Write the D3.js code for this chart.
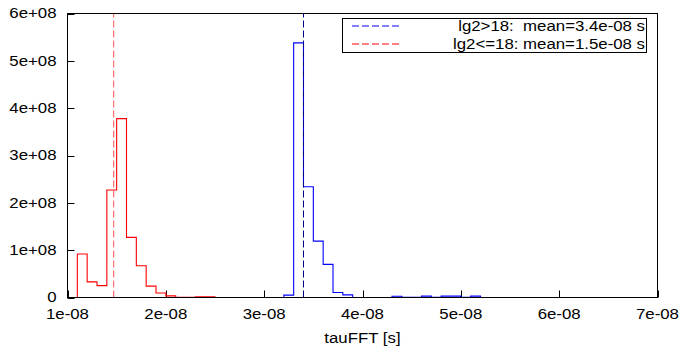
<!DOCTYPE html>
<html>
<head>
  <meta charset="utf-8">
  <title>tauFFT histogram</title>
  <script type="text/javascript" src="https://cdn.jsdelivr.net/npm/d3@7"></script>
  <style>
    body { margin: 0; background: #fff; }
    text { font-family: "Liberation Sans", Arial, sans-serif; font-size: 14px; fill: #000; }
  </style>
</head>
<body>
  <svg id="chart"></svg>
  <script>
    // bin left edges (units of 1e-8 s), bin width 0.1
    var binWidth = 0.1;
    var redEdges = [1.1, 1.2, 1.3, 1.4, 1.5, 1.6, 1.7, 1.8, 1.9, 2.0, 2.1, 2.2, 2.3, 2.4];
    var redValues = [9.2e7, 3.3e7, 2.5e7, 2.27e8, 3.78e8, 1.27e8, 6.7e7, 2.4e7, 9.5e6, 3.4e6, 5e5, 5e5, 1.5e6, 1.5e6];
    var blueEdges = [3.2, 3.3, 3.4, 3.5, 3.6, 3.7, 3.8, 3.9, 4.0, 4.1, 4.2, 4.3, 4.4, 4.5, 4.6, 4.7, 4.8, 4.9, 5.0, 5.1];
    var blueValues = [5e6, 5.38e8, 2.34e8, 1.19e8, 7.0e7, 1.05e7, 5.5e6, 0, 0, 0, 0, 2.7e6, 5e5, 5e5, 3e6, 5e5, 3e6, 3e6, 5e5, 3e6];
    var means = [3.4, 1.47];
    var seriesNames = ["lg2>18:  mean=3.4e-08 s", "lg2<=18: mean=1.5e-08 s"];
    var xTicks = [1, 2, 3, 4, 5, 6, 7];
    var yTicks = [0, 1e8, 2e8, 3e8, 4e8, 5e8, 6e8];

    var width = 680, height = 356;
    var m = {left: 67.5, right: 22.5, top: 13.5, bottom: 58.5};
    var stretch = 1.2;

    var svg = d3.select("#chart").attr("width", width).attr("height", height);

    var x = d3.scaleLinear().domain([1, 7]).range([m.left, width - m.right]);
    var y = d3.scaleLinear().domain([0, 6e8]).range([height - m.bottom, m.top]);

    function stepPoints(edges, values) {
      var pts = [[edges[0], 0]];
      edges.forEach(function(e, i) { pts.push([e, values[i]]); });
      pts.push([edges[edges.length - 1] + binWidth, 0]);
      return pts;
    }
    var line = d3.line()
      .x(function(d) { return x(d[0]); })
      .y(function(d) { return y(d[1]); })
      .curve(d3.curveStepAfter);

    // ticks (inward)
    svg.append("g").selectAll("line").data(xTicks).join("line")
      .attr("x1", function(d) { return Math.round(x(d)) + 0.5; })
      .attr("x2", function(d) { return Math.round(x(d)) + 0.5; })
      .attr("y1", y(0)).attr("y2", y(0) - 7)
      .attr("stroke", "#000");
    svg.append("g").selectAll("line").data(yTicks).join("line")
      .attr("x1", x(1)).attr("x2", x(1) + 7)
      .attr("y1", function(d) { return Math.round(y(d)) + 0.5; })
      .attr("y2", function(d) { return Math.round(y(d)) + 0.5; })
      .attr("stroke", "#000");

    // histograms
    svg.append("path").datum(stepPoints(redEdges, redValues))
      .attr("d", line).attr("fill", "none").attr("stroke", "#ff0000").attr("stroke-width", 1.1);
    svg.append("path").datum(stepPoints(blueEdges, blueValues))
      .attr("d", line).attr("fill", "none").attr("stroke", "#0000ff").attr("stroke-width", 1.1);

    // mean lines
    var meanColors = ["#00008b", "#ff5050"];
    svg.append("g").selectAll("line").data(means).join("line")
      .attr("x1", function(d) { return x(d); })
      .attr("x2", function(d) { return x(d); })
      .attr("y1", y(0)).attr("y2", y(6e8))
      .attr("stroke", function(d, i) { return meanColors[i]; })
      .attr("stroke-dasharray", "7,3");

    // frame
    svg.append("rect")
      .attr("x", x(1)).attr("y", y(6e8))
      .attr("width", x(7) - x(1)).attr("height", y(0) - y(6e8))
      .attr("fill", "none").attr("stroke", "#000");

    // tick labels
    svg.append("g").selectAll("text").data(xTicks).join("text")
      .attr("class", "st")
      .attr("x", function(d) { return x(d); })
      .attr("y", y(0) + 17)
      .attr("dy", "0.35em")
      .attr("text-anchor", "middle")
      .text(function(d) { return d + "e-08"; });
    svg.append("g").selectAll("text").data(yTicks).join("text")
      .attr("class", "st")
      .attr("x", x(1) - 11)
      .attr("y", function(d) { return y(d); })
      .attr("dy", "0.35em")
      .attr("text-anchor", "end")
      .text(function(d) { return d === 0 ? "0" : (d / 1e8) + "e+08"; });

    svg.append("text").attr("class", "st")
      .attr("x", (x(1) + x(7)) / 2).attr("y", 338).attr("dy", "0.35em")
      .attr("text-anchor", "middle")
      .text("tauFFT [s]");

    // legend
    var legend = svg.append("g");
    legend.append("rect")
      .attr("x", 342.5).attr("y", 18.5).attr("width", 304).attr("height", 34)
      .attr("fill", "#fff").attr("stroke", "#000");
    var legendColors = ["#0000ff", "#ff0000"];
    seriesNames.forEach(function(name, i) {
      var ly = 26 + i * 18;
      legend.append("line")
        .attr("x1", 352).attr("x2", 400).attr("y1", ly).attr("y2", ly)
        .attr("stroke", legendColors[i]).attr("stroke-dasharray", "7,3");
      legend.append("text").attr("class", "st")
        .attr("x", 645).attr("y", ly).attr("dy", "0.35em")
        .attr("text-anchor", "end")
        .attr("xml:space", "preserve")
        .style("white-space", "pre")
        .text(name);
    });

    // gnuplot's font is a bit wider than Arial
    svg.selectAll("text.st").each(function() {
      var len = this.getComputedTextLength();
      d3.select(this).attr("textLength", len * stretch).attr("lengthAdjust", "spacingAndGlyphs");
    });
  </script>
</body>
</html>
